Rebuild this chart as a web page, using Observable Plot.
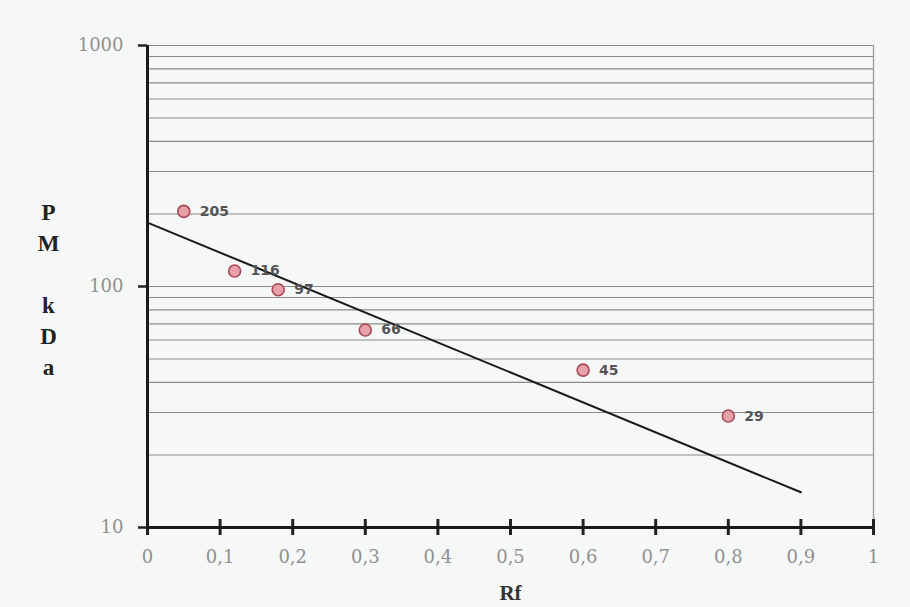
<!DOCTYPE html>
<html>
<head>
<meta charset="utf-8">
<script src="https://cdn.jsdelivr.net/npm/d3@7"></script>
<script src="https://cdn.jsdelivr.net/npm/@observablehq/plot@0.6"></script>
<style>
  html, body { margin: 0; padding: 0; background: #f6f8f8; }
  #chart svg { display: block; background: #f6f8f8; }
</style>
</head>
<body>
<div id="chart"></div>
<script>
// Data
const rf = [0.05, 0.12, 0.18, 0.30, 0.60, 0.80];
const mw = [205, 116, 97, 66, 45, 29];
const mwLabels = ["205", "116", "97", "66", "45", "29"];
const fitX = [0, 0.9];
const fitY = [184, 14];
const xTicks = [0, 0.1, 0.2, 0.3, 0.4, 0.5, 0.6, 0.7, 0.8, 0.9, 1];
const yTicks = [10, 100, 1000];
const gridValues = [20, 30, 40, 50, 60, 70, 80, 90, 100, 200, 300, 400, 500, 600, 700, 800, 900, 1000];
const yTitle = "P\nM\n\nk\nD\na";
const xTitle = "Rf";

const points = rf.map((x, i) => ({x, y: mw[i], label: mwLabels[i]}));
const fit = fitX.map((x, i) => ({x, y: fitY[i]}));

const serif = "'Liberation Serif', 'Times New Roman', serif";
const tickSerif = "'DejaVu Serif', serif";
const sans = "'DejaVu Sans', sans-serif";

const chart = Plot.plot({
  width: 910,
  height: 607,
  marginLeft: 147,
  marginRight: 37,
  marginTop: 45,
  marginBottom: 80,
  style: {background: "#f6f8f8", fontFamily: serif},
  x: {domain: [0, 1]},
  y: {type: "log", domain: [10, 1000]},
  marks: [
    Plot.ruleY(gridValues, {stroke: "#8a8a8a", strokeWidth: 1.1}),
    Plot.ruleX([1], {stroke: "#9a9a9a", strokeWidth: 1.3}),
    Plot.axisY({
      ticks: yTicks, tickFormat: d => String(d), tickSize: 9, tickPadding: 15,
      stroke: "#222", strokeWidth: 2.5, fill: "#909090", fontSize: 18, fontFamily: tickSerif, label: null
    }),
    Plot.axisX({
      ticks: xTicks, tickFormat: d => String(d).replace(".", ","), tickSize: 0, tickPadding: 23,
      fill: "#909090", fontSize: 18, fontFamily: tickSerif, label: null
    }),
    Plot.ruleX(xTicks, {x: d => d, y1: 10, y2: 10, insetTop: -8, insetBottom: -8, stroke: "#222", strokeWidth: 3}),
    Plot.line(fit, {x: "x", y: "y", stroke: "#1a1a1a", strokeWidth: 2}),
    Plot.dot(points, {x: "x", y: "y", r: 6, fill: "#e8a0a9", stroke: "#a84856", strokeWidth: 1.6}),
    Plot.text(points, {x: "x", y: "y", text: "label", dx: 16, textAnchor: "start", fill: "#555", fontSize: 14, fontWeight: "bold", fontFamily: sans}),
    Plot.ruleX([0], {stroke: "#1a1a1a", strokeWidth: 3}),
    Plot.ruleY([10], {stroke: "#1a1a1a", strokeWidth: 3}),
    Plot.text([yTitle], {frameAnchor: "left", dx: -99, dy: 1, text: d => d, lineHeight: 1.35, fontSize: 23, fontWeight: "bold", fill: "#222", fontFamily: serif, textAnchor: "middle"}),
    Plot.text([xTitle], {frameAnchor: "bottom", dx: 0, dy: 66, text: d => d, fontSize: 21, fontWeight: "bold", fill: "#333", fontFamily: serif, textAnchor: "middle", lineAnchor: "middle", letterSpacing: "3px"})
  ]
});
document.getElementById("chart").append(chart);
</script>
</body>
</html>
